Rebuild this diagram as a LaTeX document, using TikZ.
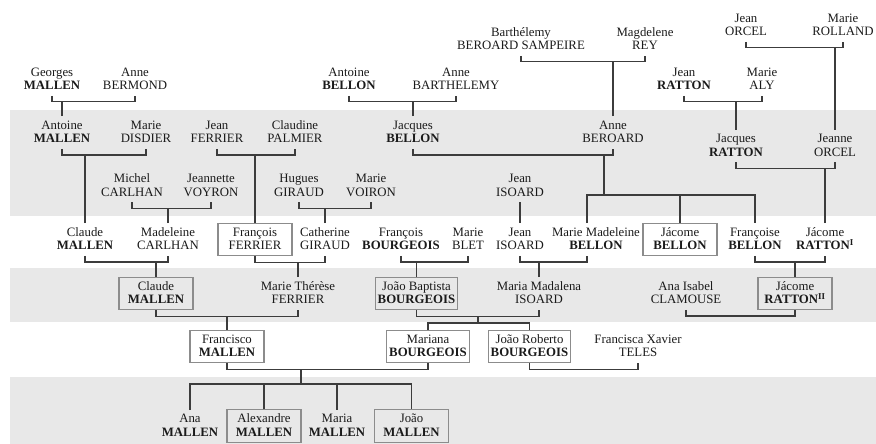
\documentclass[tikz,border=0pt]{standalone}
\usepackage{fontspec}
\setmainfont{Liberation Serif}
\definecolor{band}{HTML}{E8E8E8}
\definecolor{txt}{HTML}{1A1A1A}
\definecolor{linkgray}{HTML}{3C3C3C}
\definecolor{boxgray}{HTML}{8C8C8C}
\newcommand{\gstrut}{\rule[-2pt]{0pt}{11pt}}
\newcommand{\pp}[2]{\gstrut #1\\\gstrut #2}

\begin{document}
\begin{tikzpicture}[x=1pt,y=-1pt,
  person/.style={align=center,inner xsep=2.5pt,inner ysep=4pt,minimum width=74pt,text=txt,font=\fontsize{12.8}{13.3}\selectfont},
  boxed/.style={person,draw=boxgray,line width=1.2pt},
  link/.style={draw=linkgray,line width=1.3pt}]
\useasboundingbox (0,0) rectangle (876,444);
\fill[band] (10,110) rectangle (876,216);
\fill[band] (10,268) rectangle (876,322);
\fill[band] (10,377) rectangle (876,444);

% oldest generations
\node[person] (jorcel) at (746,25.5) {\pp{Jean}{ORCEL}};
\node[person] (mrolland) at (843,25.5) {\pp{Marie}{ROLLAND}};
\node[person] (bsampeire) at (521,39.5) {\pp{Barthélemy}{BEROARD SAMPEIRE}};
\node[person] (mrey) at (645,39.5) {\pp{Magdelene}{REY}};

\node[person] (gmallen) at (52,79.5) {\pp{Georges}{\textbf{MALLEN}}};
\node[person] (abermond) at (135,79.5) {\pp{Anne}{BERMOND}};
\node[person] (abellon) at (349,79.5) {\pp{Antoine}{\textbf{BELLON}}};
\node[person] (abarthelemy) at (456,79.5) {\pp{Anne}{BARTHELEMY}};
\node[person] (jratton) at (684,79.5) {\pp{Jean}{\textbf{RATTON}}};
\node[person] (maly) at (762,79.5) {\pp{Marie}{ALY}};

% first gray band
\node[person] (amallen) at (62,132.5) {\pp{Antoine}{\textbf{MALLEN}}};
\node[person] (mdisdier) at (146,132.5) {\pp{Marie}{DISDIER}};
\node[person] (jferrier) at (217,132.5) {\pp{Jean}{FERRIER}};
\node[person] (cpalmier) at (295,132.5) {\pp{Claudine}{PALMIER}};
\node[person] (jbellon) at (413,132.5) {\pp{Jacques}{\textbf{BELLON}}};
\node[person] (aberoard) at (613,132.5) {\pp{Anne}{BEROARD}};
\node[person] (jacratton) at (736,146) {\pp{Jacques}{\textbf{RATTON}}};
\node[person] (jeorcel) at (835,146) {\pp{Jeanne}{ORCEL}};

\node[person] (mcarlhan) at (132,186) {\pp{Michel}{CARLHAN}};
\node[person] (jvoyron) at (211,186) {\pp{Jeannette}{VOYRON}};
\node[person] (hgiraud) at (299,186) {\pp{Hugues}{GIRAUD}};
\node[person] (mvoiron) at (371,186) {\pp{Marie}{VOIRON}};
\node[person] (jisoardA) at (520,186) {\pp{Jean}{ISOARD}};

% white row
\node[person] (cmallen) at (85,239.5) {\pp{Claude}{\textbf{MALLEN}}};
\node[person] (mdcarlhan) at (168,239.5) {\pp{Madeleine}{CARLHAN}};
\node[boxed] (fferrier) at (255,239.5) {\pp{François}{FERRIER}};
\node[person] (cgiraud) at (325,239.5) {\pp{Catherine}{GIRAUD}};
\node[person] (fbourgeois) at (401,239.5) {\pp{François}{\textbf{BOURGEOIS}}};
\node[person] (mblet) at (468,239.5) {\pp{Marie}{BLET}};
\node[person] (jisoardB) at (520,239.5) {\pp{Jean}{ISOARD}};
\node[person] (mmbellon) at (596,239.5) {\pp{Marie Madeleine}{\textbf{BELLON}}};
\node[boxed] (jabellon) at (680,239.5) {\pp{Jácome}{\textbf{BELLON}}};
\node[person] (fbellon) at (755,239.5) {\pp{Françoise}{\textbf{BELLON}}};
\node[person] (jrattonA) at (825,239.5) {\pp{Jácome}{\textbf{RATTON\textsuperscript{I}}}};

% second gray band
\node[boxed] (cmallenB) at (156,293.5) {\pp{Claude}{\textbf{MALLEN}}};
\node[person] (mtferrier) at (298,293.5) {\pp{Marie Thérèse}{FERRIER}};
\node[boxed] (jbbourgeois) at (416.5,293.5) {\pp{João Baptista}{\textbf{BOURGEOIS}}};
\node[person] (mmisoard) at (539,293.5) {\pp{Maria Madalena}{ISOARD}};
\node[person] (aiclamouse) at (686,293.5) {\pp{Ana Isabel}{CLAMOUSE}};
\node[boxed] (jrattonB) at (795,293.5) {\pp{Jácome}{\textbf{RATTON\textsuperscript{II}}}};

% white row
\node[boxed] (fmallen) at (227,346.5) {\pp{Francisco}{\textbf{MALLEN}}};
\node[boxed] (mabourgeois) at (428,346.5) {\pp{Mariana}{\textbf{BOURGEOIS}}};
\node[boxed] (jrbourgeois) at (529.5,346.5) {\pp{João Roberto}{\textbf{BOURGEOIS}}};
\node[person] (fxteles) at (638,346.5) {\pp{Francisca Xavier}{TELES}};

% last gray band
\node[person] (anmallen) at (190,426) {\pp{Ana}{\textbf{MALLEN}}};
\node[boxed] (almallen) at (264,426) {\pp{Alexandre}{\textbf{MALLEN}}};
\node[person] (mamallen) at (337,426) {\pp{Maria}{\textbf{MALLEN}}};
\node[boxed] (jomallen) at (411.5,426) {\pp{João}{\textbf{MALLEN}}};

\coordinate (sbe) at (604,195);
\coordinate (sbo) at (478,323);
\coordinate (sma) at (301,384);

% couples and children
\draw[link] (jorcel.south) -- ++(0,6) coordinate (or) -| (mrolland.south);
\draw[link] (jeorcel.north) -- (jeorcel.north |- or);
\draw[link] (bsampeire.south) -- ++(0,6) coordinate (br) -| (mrey.south);
\draw[link] (aberoard.north) -- (aberoard.north |- br);
\draw[link] (gmallen.south) -- ++(0,6) coordinate (gm) -| (abermond.south);
\draw[link] (amallen.north) -- (amallen.north |- gm);
\draw[link] (abellon.south) -- ++(0,6) coordinate (ab) -| (abarthelemy.south);
\draw[link] (jbellon.north) -- (jbellon.north |- ab);
\draw[link] (jratton.south) -- ++(0,6) coordinate (jr) -| (maly.south);
\draw[link] (jacratton.north) -- (jacratton.north |- jr);

\draw[link] (amallen.south) -- ++(0,6) coordinate (am) -| (mdisdier.south);
\draw[link] (cmallen.north) -- (cmallen.north |- am);
\draw[link] (jferrier.south) -- ++(0,6) coordinate (jf) -| (cpalmier.south);
\draw[link] (fferrier.north) -- (fferrier.north |- jf);
\draw[link] (jbellon.south) -- ++(0,6) coordinate (jb) -| (aberoard.south);
\draw[link] (sbe |- jb) -- (sbe);
\draw[link] ([xshift=-9pt]mmbellon.north) |- (sbe) -| (fbellon.north);
\draw[link] (jabellon.north) -- (jabellon.north |- sbe);
\draw[link] (jacratton.south) -- ++(0,6) coordinate (jo) -| (jeorcel.south);
\draw[link] (jrattonA.north) -- (jrattonA.north |- jo);

\draw[link] (mcarlhan.south) -- ++(0,6) coordinate (mc) -| (jvoyron.south);
\draw[link] (mdcarlhan.north) -- (mdcarlhan.north |- mc);
\draw[link] (hgiraud.south) -- ++(0,6) coordinate (hg) -| (mvoiron.south);
\draw[link] (cgiraud.north) -- (cgiraud.north |- hg);
\draw[link] (jisoardA.south) -- (jisoardB.north);

\draw[link] (cmallen.south) -- ++(0,6) coordinate (cm) -| (mdcarlhan.south);
\draw[link] (cmallenB.north) -- (cmallenB.north |- cm);
\draw[link] (fferrier.south) -- ++(0,6) coordinate (ff) -| (cgiraud.south);
\draw[link] (mtferrier.north) -- (mtferrier.north |- ff);
\draw[link] (fbourgeois.south) -- ++(0,6) coordinate (fb) -| (mblet.south);
\draw[link] (jbbourgeois.north) -- (jbbourgeois.north |- fb);
\draw[link] (jisoardB.south) -- ++(0,6) coordinate (ji) -| ([xshift=-9pt]mmbellon.south);
\draw[link] (mmisoard.north) -- (mmisoard.north |- ji);
\draw[link] (fbellon.south) -- ++(0,6) coordinate (fr) -| (jrattonA.south);
\draw[link] (jrattonB.north) -- (jrattonB.north |- fr);

\draw[link] (cmallenB.south) -- ++(0,6) coordinate (ct) -| (mtferrier.south);
\draw[link] (fmallen.north) -- (fmallen.north |- ct);
\draw[link] (jbbourgeois.south) -- ++(0,6) coordinate (bm) -| (mmisoard.south);
\draw[link] (sbo |- bm) -- (sbo);
\draw[link] (mabourgeois.north) |- (sbo) -| (jrbourgeois.north);
\draw[link] (aiclamouse.south) -- ++(0,6) -| (jrattonB.south);

\draw[link] (fmallen.south) -- ++(0,6) coordinate (fm) -| (mabourgeois.south);
\draw[link] (sma |- fm) -- (sma);
\draw[link] (anmallen.north) |- (sma) -| (jomallen.north);
\draw[link] (almallen.north) -- (almallen.north |- sma);
\draw[link] (mamallen.north) -- (mamallen.north |- sma);
\draw[link] (jrbourgeois.south) -- ++(0,6) -| (fxteles.south);
\end{tikzpicture}
\end{document}
